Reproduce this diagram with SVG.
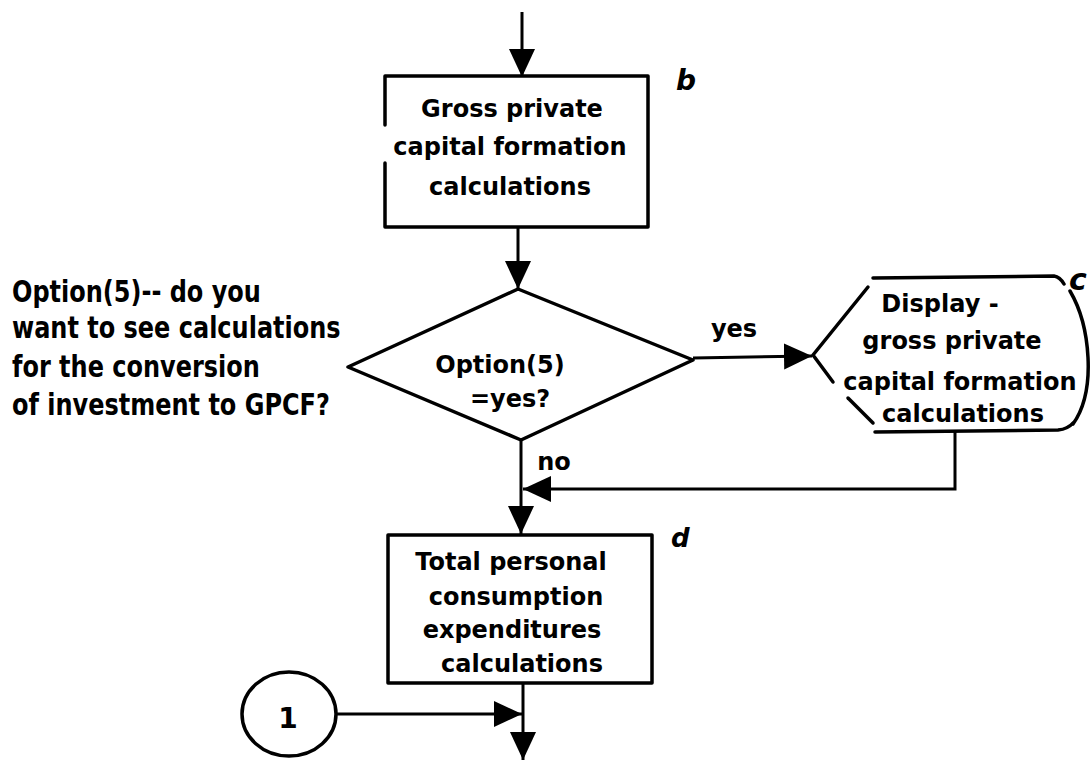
<svg xmlns="http://www.w3.org/2000/svg" width="1091" height="760" viewBox="0 0 1091 760">
  <style>
    .shape { fill: none; stroke: #000; stroke-width: 3.5; stroke-linecap: round; stroke-linejoin: round; }
    .line { fill: none; stroke: #000; stroke-width: 3; }
    .txt { font-family: "DejaVu Sans", "Liberation Sans", sans-serif; font-weight: bold; font-size: 24px; fill: #000; }
    .mid { text-anchor: middle; }
    .big { font-size: 28px; }
    .tag { font-family: "DejaVu Sans", "Liberation Sans", sans-serif; font-weight: bold; font-style: italic; fill: #000; }
  </style>
  <defs>
    <marker id="arrow" markerUnits="userSpaceOnUse" markerWidth="30" markerHeight="28" refX="28" refY="13" orient="auto">
      <path d="M0,0 L28,13 L0,26 Z" fill="#000"/>
    </marker>
  </defs>
  <rect width="1091" height="760" fill="#fff"/>

  <!-- connectors -->
  <g id="connectors">
    <line class="line" x1="522" y1="12" x2="522" y2="77" marker-end="url(#arrow)"/>
    <line class="line" x1="518" y1="227" x2="518" y2="289" marker-end="url(#arrow)"/>
    <line class="line" x1="693" y1="358" x2="812" y2="356" marker-end="url(#arrow)"/>
    <line class="line" x1="521" y1="440" x2="521" y2="534" marker-end="url(#arrow)"/>
    <polyline class="line" points="955,432 955,489 523,489" marker-end="url(#arrow)"/>
    <line class="line" x1="523" y1="683" x2="523" y2="760" marker-end="url(#arrow)"/>
    <line class="line" x1="336" y1="714" x2="522" y2="714" marker-end="url(#arrow)"/>
    <text class="txt mid" x="734" y="337">yes</text>
    <text class="txt mid" x="554" y="470">no</text>
  </g>

  <!-- b: process box -->
  <g id="node-b">
    <path class="shape" d="M385,163 V227 H648 V76 H385 V125"/>
    <text class="txt mid" x="512" y="117">Gross private</text>
    <text class="txt mid" x="510" y="155">capital formation</text>
    <text class="txt mid" x="510" y="195">calculations</text>
    <text class="tag" x="676" y="90" font-size="28">b</text>
  </g>

  <!-- decision -->
  <g id="node-decision">
    <polygon class="shape" points="518,289 693,360 521,440 348,367"/>
    <text class="txt mid" x="500" y="373">Option(5)</text>
    <text class="txt mid" x="510" y="407">=yes?</text>
  </g>

  <!-- annotation beside the decision -->
  <g id="note-option5" transform="scale(1,1.27)">
    <text class="txt" x="12" y="237.8">Option(5)-- do you</text>
    <text class="txt" x="12" y="266.1">want to see calculations</text>
    <text class="txt" x="12" y="296.9">for the conversion</text>
    <text class="txt" x="12" y="326.8">of investment to GPCF?</text>
  </g>

  <!-- c: display -->
  <g id="node-c">
    <path class="shape" d="M873,278 L1054,276 Q1060,277 1064,284"/>
    <path class="shape" d="M868,287 L813,355 L833,382"/>
    <path class="shape" d="M848,398 L873,423"/>
    <path class="shape" d="M875,432 L1058,430 Q1068,429 1073,423"/>
    <path class="shape" d="M1070,291 C1090,325 1097,390 1073,424"/>
    <text class="txt mid" x="940" y="312">Display -</text>
    <text class="txt mid" x="952" y="349">gross private</text>
    <text class="txt mid" x="960" y="390">capital formation</text>
    <text class="txt mid" x="963" y="422">calculations</text>
    <text class="tag" x="1069" y="290" font-size="30">c</text>
  </g>

  <!-- d: process box -->
  <g id="node-d">
    <rect class="shape" x="388" y="535" width="264" height="148"/>
    <text class="txt mid" x="511" y="570">Total personal</text>
    <text class="txt mid" x="516" y="605">consumption</text>
    <text class="txt mid" x="512" y="638">expenditures</text>
    <text class="txt mid" x="522" y="672">calculations</text>
    <text class="tag" x="671" y="547" font-size="26">d</text>
  </g>

  <!-- connector 1 -->
  <g id="node-1">
    <ellipse class="shape" cx="289" cy="714" rx="47" ry="42"/>
    <text class="txt mid big" x="288" y="728">1</text>
  </g>
</svg>
